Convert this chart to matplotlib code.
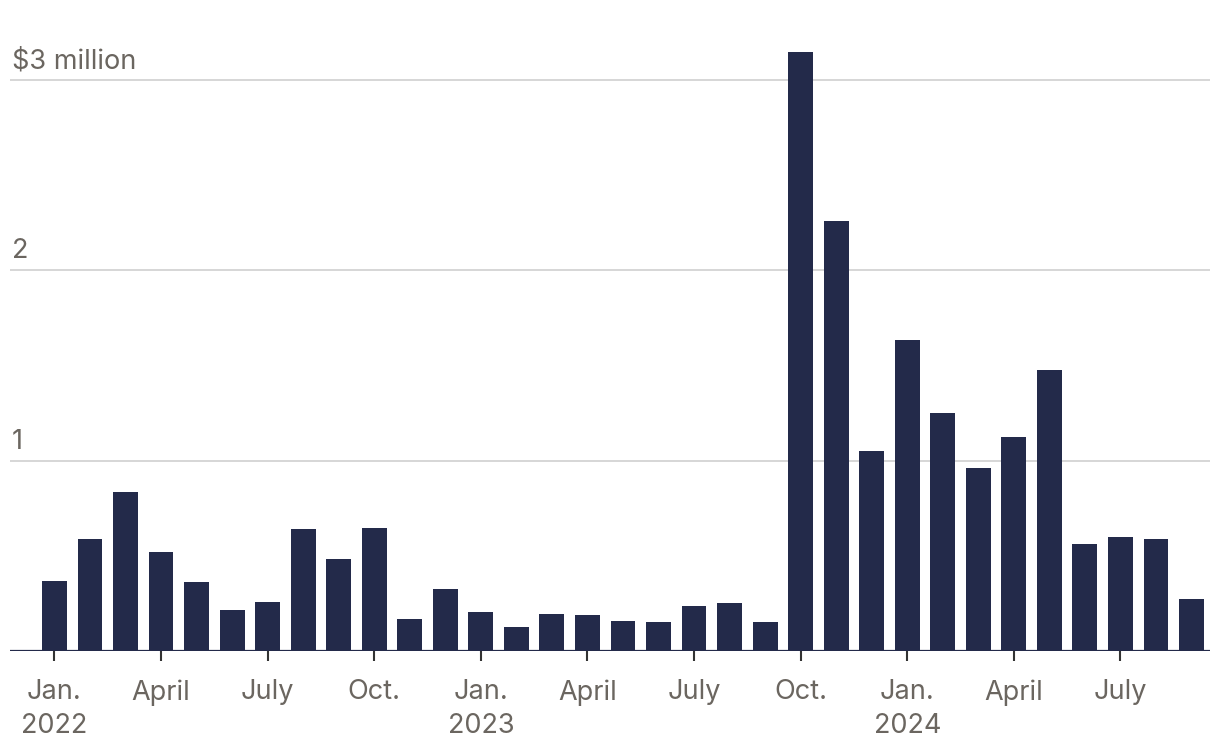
import matplotlib
matplotlib.use("Agg")
import matplotlib.pyplot as plt
import matplotlib.transforms as mtransforms

plt.rcParams['font.family'] = ['Inter', 'DejaVu Sans']

months = ["2022-01", "2022-02", "2022-03", "2022-04", "2022-05", "2022-06",
          "2022-07", "2022-08", "2022-09", "2022-10", "2022-11", "2022-12",
          "2023-01", "2023-02", "2023-03", "2023-04", "2023-05", "2023-06",
          "2023-07", "2023-08", "2023-09", "2023-10", "2023-11", "2023-12",
          "2024-01", "2024-02", "2024-03", "2024-04", "2024-05", "2024-06",
          "2024-07", "2024-08", "2024-09"]
values = [0.368, 0.589, 0.836, 0.520, 0.363, 0.215,
          0.257, 0.641, 0.483, 0.646, 0.168, 0.326,
          0.205, 0.126, 0.194, 0.189, 0.158, 0.152,
          0.236, 0.252, 0.152, 3.148, 2.260, 1.051,
          1.634, 1.251, 0.962, 1.125, 1.477, 0.562,
          0.599, 0.589, 0.273]
tick_months = ["2022-01", "2022-04", "2022-07", "2022-10",
               "2023-01", "2023-04", "2023-07", "2023-10",
               "2024-01", "2024-04", "2024-07"]
tick_labels = ["Jan.\n2022", "April", "July", "Oct.",
               "Jan.\n2023", "April", "July", "Oct.",
               "Jan.\n2024", "April", "July"]
y_ticks = [1, 2, 3]
y_labels = ["1", "2", "$3 million"]

BAR = "#232a4a"
TEXT = "#6b6660"
GRID = "#d3d3d3"

fig = plt.figure(figsize=(12.2, 7.56), dpi=100)
ax = fig.add_axes([10/1220, 105/756, 1200/1220, 609/756])

x = list(range(len(months)))
ax.bar(x, values, width=0.70, color=BAR, zorder=3)

ax.set_xlim(-1.25, 32.52)
ax.set_ylim(0, 3.2)

for yv, lab in zip(y_ticks, y_labels):
    ax.axhline(yv, color=GRID, lw=1.3, zorder=1)
    trans = mtransforms.offset_copy(ax.get_yaxis_transform(), fig=fig, x=0, y=6, units='dots')
    ax.text(0.0017, yv, lab, transform=trans, ha='left', va='bottom',
            fontsize=19.5, color=TEXT)

ax.axhline(0, color=BAR, lw=1.6, zorder=4)

for s in ax.spines.values():
    s.set_visible(False)

ax.set_yticks([])
ax.set_xticks([months.index(m) for m in tick_months])
ax.set_xticklabels(tick_labels, fontsize=19.5, color=TEXT, linespacing=1.4, va='top')
ax.tick_params(axis='x', length=7.5, width=1.5, color="#333333", pad=13)

fig.savefig("out.png", dpi=100, facecolor="white")
